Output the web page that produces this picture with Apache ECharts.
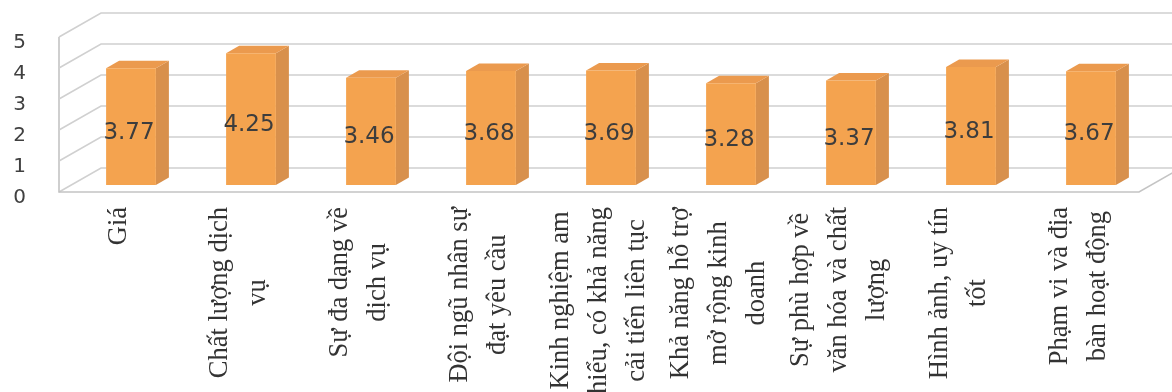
<!DOCTYPE html>
<html><head><meta charset="utf-8">
<script src="https://cdn.jsdelivr.net/npm/echarts@6/dist/echarts.min.js"></script>
<style>html,body{margin:0;padding:0;background:#fff}#c{width:1172px;height:392px}</style>
</head><body><div id="c"></div>
<script>
const categories = [
  "Giá",
  "Chất lượng dịch\nvụ",
  "Sự đa dạng về\ndịch vụ",
  "Đội ngũ nhân sự\nđạt yêu cầu",
  "Kinh nghiệm am\nhiểu, có khả năng\ncải tiến liên tục",
  "Khả năng hỗ trợ\nmở rộng kinh\ndoanh",
  "Sự phù hợp về\nvăn hóa và chất\nlượng",
  "Hình ảnh, uy tín\ntốt",
  "Phạm vi và địa\nbàn hoạt động"
];
const values = [3.77, 4.25, 3.46, 3.68, 3.69, 3.28, 3.37, 3.81, 3.67];
const yTicks = [0, 1, 2, 3, 4, 5];

const WALL_DX = 42, WALL_DY = -24;   // back wall offset from front plane
const BAR_SHIFT_X = 12, BAR_SHIFT_Y = -7; // bar front face offset
const BAR_DX = 13, BAR_DY = -7.5;    // bar depth
const GRID_COLOR = '#d0d0d0';

const chart = echarts.init(document.getElementById('c'));

function gridItem(params, api) {
  const cs = params.coordSys;
  const v = api.value(1);
  const y = api.coord([0, v])[1];
  const x0 = cs.x, x1 = cs.x + cs.width;
  const children = [{
    type: 'polyline',
    shape: { points: [[x0, y], [x0 + WALL_DX, y + WALL_DY], [x1 + WALL_DX, y + WALL_DY]] },
    style: { stroke: GRID_COLOR, lineWidth: 1.6, fill: null }
  }];
  if (v === 0) {
    const yTop = api.coord([0, 5])[1];
    children.push({
      type: 'polyline',
      shape: { points: [[x0, yTop], [x0, y], [x1, y], [x1 + WALL_DX, y + WALL_DY]] },
      style: { stroke: '#c4c4c4', lineWidth: 1.6, fill: null }
    });
  }
  return { type: 'group', children };
}

function barItem(params, api) {
  const i = api.value(0), v = api.value(1);
  const top = api.coord([i, v]);
  const base = api.coord([i, 0]);
  const band = api.size([1, 0])[0];
  const w = band * 0.415;
  const cx = top[0] + BAR_SHIFT_X;
  const xl = cx - w / 2, xr = cx + w / 2;
  const yt = top[1] + BAR_SHIFT_Y, yb = base[1] + BAR_SHIFT_Y;
  return {
    type: 'group',
    children: [
      { type: 'polygon', shape: { points: [[xr, yt], [xr + BAR_DX, yt + BAR_DY], [xr + BAR_DX, yb + BAR_DY], [xr, yb]] },
        style: { fill: '#D8904C' } },
      { type: 'polygon', shape: { points: [[xl, yt], [xl + BAR_DX, yt + BAR_DY], [xr + BAR_DX, yt + BAR_DY], [xr, yt]] },
        style: { fill: '#EB9A4E' } },
      { type: 'rect', shape: { x: xl, y: yt, width: w, height: yb - yt },
        style: { fill: '#F4A34F' } },
      { type: 'text', style: {
          text: v.toFixed(2), x: cx - 2, y: (yt + yb) / 2 + 6,
          align: 'center', verticalAlign: 'middle',
          fill: '#3d3d3d', fontSize: 23, fontFamily: 'DejaVu Sans'
        } }
    ]
  };
}

chart.setOption({
  animation: false,
  backgroundColor: '#ffffff',
  grid: { left: 59, right: 33, top: 37, bottom: 200, containLabel: false, outerBoundsMode: 'none' },
  xAxis: {
    type: 'category',
    data: categories,
    boundaryGap: true,
    axisLine: { show: false },
    axisTick: { show: false },
    splitLine: { show: false },
    axisLabel: {
      interval: 0,
      rotate: 90,
      margin: 15,
      formatter: (val) => val.split('\n').map(s => '{c|' + s + '}').join('\n'),
      rich: {
        c: { align: 'center', fontFamily: 'Liberation Serif', fontSize: 26.5, lineHeight: 38, color: '#333333' }
      }
    }
  },
  yAxis: {
    type: 'value',
    min: 0, max: 5, interval: 1,
    axisLine: { show: false },
    axisTick: { show: false },
    splitLine: { show: false },
    axisLabel: {
      margin: 33,
      verticalAlign: 'top',
      lineHeight: 12,
      fontFamily: 'DejaVu Sans', fontSize: 20, color: '#404040'
    }
  },
  series: [
    {
      type: 'custom',
      renderItem: gridItem,
      data: yTicks.map(t => [0, t]),
      z: 1,
      silent: true
    },
    {
      type: 'custom',
      renderItem: barItem,
      data: values.map((v, i) => [i, v]),
      z: 2
    }
  ]
});
</script>
</body></html>
